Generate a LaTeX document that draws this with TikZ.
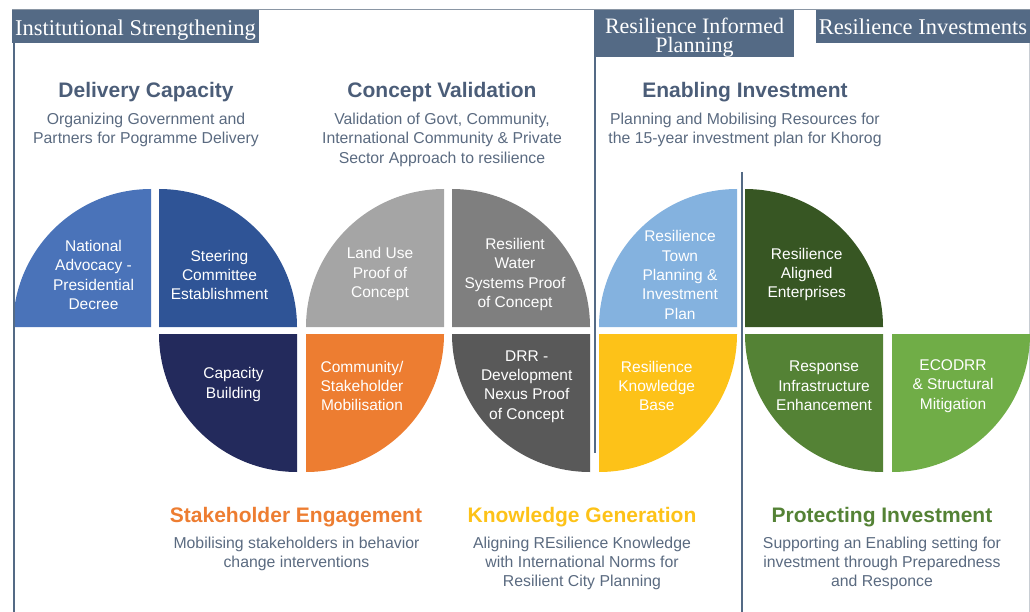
\documentclass[tikz,border=0pt]{standalone}
\usepackage{fontspec}
\setmainfont{Liberation Sans}
\newfontfamily\bandfont{Liberation Serif}
\usetikzlibrary{positioning}

\definecolor{slate}{HTML}{546A85}
\definecolor{topline}{HTML}{8A96A4}
\definecolor{edgeline}{HTML}{C8CDD3}
\definecolor{headgrey}{HTML}{4B5D78}
\definecolor{blurbgrey}{HTML}{5A6A80}
\definecolor{natBlue}{HTML}{4A73B9}
\definecolor{steerBlue}{HTML}{2F5496}
\definecolor{capNavy}{HTML}{232A5C}
\definecolor{landGrey}{HTML}{A5A5A5}
\definecolor{waterGrey}{HTML}{7F7F7F}
\definecolor{commOrange}{HTML}{ED7D31}
\definecolor{drrGrey}{HTML}{595959}
\definecolor{townBlue}{HTML}{84B2DF}
\definecolor{knowYellow}{HTML}{FDC218}
\definecolor{alignGreen}{HTML}{375623}
\definecolor{respGreen}{HTML}{548235}
\definecolor{ecoGreen}{HTML}{70AD47}

\begin{document}
\begin{tikzpicture}[x=1pt,y=-1pt,
  band/.style={text=white,font=\bandfont\fontsize{22.5}{18}\selectfont,align=center,inner sep=0pt},
  sliceText/.style={text=white,font=\fontsize{15.5}{19.3}\selectfont,align=center,inner sep=0pt},
  headline/.style={font=\fontsize{21}{25}\selectfont\bfseries,anchor=base,inner sep=0pt},
  blurb/.style={text=blurbgrey,font=\fontsize{15.8}{19.3}\selectfont,align=center,anchor=north,inner sep=0pt},
  divider/.style={slate,line width=2pt}]
\useasboundingbox (0,0) rectangle (1030,612);

% frame lines
\draw[topline,line width=1.2pt] (12,9.5) -- (1030,9.5);
\draw[edgeline,line width=0.8pt] (1029,43) -- (1029,612);

% delivery capacity
\fill[natBlue] (151,327) -- (13,327) arc[start angle=180,end angle=270,radius=138] -- cycle;
\fill[steerBlue] (159,327) -- (159,189) arc[start angle=270,end angle=360,radius=138] -- cycle;
\fill[capNavy] (297,334) -- (297,472) arc[start angle=90,end angle=180,radius=138] -- cycle;
\node[sliceText] (natAdv) at (93.5,275) {National\\Advocacy -\\Presidential\\Decree};
\node[sliceText] (steerCom) at (219.5,275) {Steering\\Committee\\Establishment};
\node[sliceText] (capBuild) at (233.5,384.5) {Capacity\\Building};

% concept validation
\fill[landGrey] (444,327) -- (306,327) arc[start angle=180,end angle=270,radius=138] -- cycle;
\fill[waterGrey] (452,327) -- (452,189) arc[start angle=270,end angle=360,radius=138] -- cycle;
\fill[commOrange] (306,334) -- (444,334) arc[start angle=0,end angle=90,radius=138] -- cycle;
\fill[drrGrey] (590,334) -- (590,472) arc[start angle=90,end angle=180,radius=138] -- cycle;
\node[sliceText] (landUse) at (380,274) {Land Use\\Proof of\\Concept};
\node[sliceText] (resWater) at (515,274.5) {Resilient\\Water\\Systems Proof\\of Concept};
\node[sliceText] (commMob) at (362,386) {Community/\\Stakeholder\\Mobilisation};
\node[sliceText] (drrNexus) at (526.7,386.5) {DRR -\\Development\\Nexus Proof\\of Concept};

% enabling and protecting investment
\fill[townBlue] (737,327) -- (599,327) arc[start angle=180,end angle=270,radius=138] -- cycle;
\fill[knowYellow] (599,334) -- (737,334) arc[start angle=0,end angle=90,radius=138] -- cycle;
\fill[alignGreen] (745,327) -- (745,189) arc[start angle=270,end angle=360,radius=138] -- cycle;
\fill[respGreen] (883,334) -- (883,472) arc[start angle=90,end angle=180,radius=138] -- cycle;
\fill[ecoGreen] (892,334) -- (1030,334) arc[start angle=0,end angle=90,radius=138] -- cycle;
\node[sliceText] (townPlan) at (680,275) {Resilience\\Town\\Planning \&\\Investment\\Plan};
\node[sliceText] (knowBase) at (656.7,386) {Resilience\\Knowledge\\Base};
\node[sliceText] (alignEnt) at (806.7,274.5) {Resilience\\Aligned\\Enterprises};
\node[sliceText] (respInfra) at (824,386) {Response\\Infrastructure\\Enhancement};
\node[sliceText] (ecoDrr) at (953,386) {ECODRR\\\& Structural\\Mitigation};

% dividers
\draw[divider] (14,43) -- (14,612);
\draw[divider] (594.5,10) -- (594.5,453);
\draw[divider] (741.5,172) -- (741.5,612);

% header bands
\fill[slate] (12,10) rectangle (259,43);
\node[band,anchor=base] (bandInst) at (135.5,35.5) {Institutional Strengthening};
\fill[slate] (595,10) rectangle (794,57);
\node[band,font=\bandfont\fontsize{22}{19}\selectfont,anchor=north] (bandPlan) at (694.5,17.5) {Resilience Informed\\Planning};
\fill[slate] (816,10) rectangle (1030,43);
\node[band,anchor=base] (bandInv) at (923,35) {Resilience Investments};

% top headings
\node[headline,text=headgrey] (hDelivery) at (146,98) {Delivery Capacity};
\node[blurb] (bDelivery) at (146,113) {Organizing Government and\\Partners for Pogramme Delivery};
\node[headline,text=headgrey] (hConcept) at (442,98) {Concept Validation};
\node[blurb] (bConcept) at (442,113) {Validation of Govt, Community,\\International Community \& Private\\Sector Approach to resilience};
\node[headline,text=headgrey] (hEnabling) at (745,98) {Enabling Investment};
\node[blurb] (bEnabling) at (745,113) {Planning and Mobilising Resources for\\the 15-year investment plan for Khorog};

% bottom headings
\node[headline,text=commOrange] (hStake) at (296,522) {Stakeholder Engagement};
\node[blurb] (bStake) at (296.5,536.5) {Mobilising stakeholders in behavior\\change interventions};
\node[headline,text=knowYellow] (hKnow) at (582,522) {Knowledge Generation};
\node[blurb] (bKnow) at (582,536.5) {Aligning REsilience Knowledge\\with International Norms for\\Resilient City Planning};
\node[headline,text=respGreen] (hProtect) at (882,522) {Protecting Investment};
\node[blurb] (bProtect) at (882,536.5) {Supporting an Enabling setting for\\investment through Preparedness\\and Responce};

\end{tikzpicture}
\end{document}
